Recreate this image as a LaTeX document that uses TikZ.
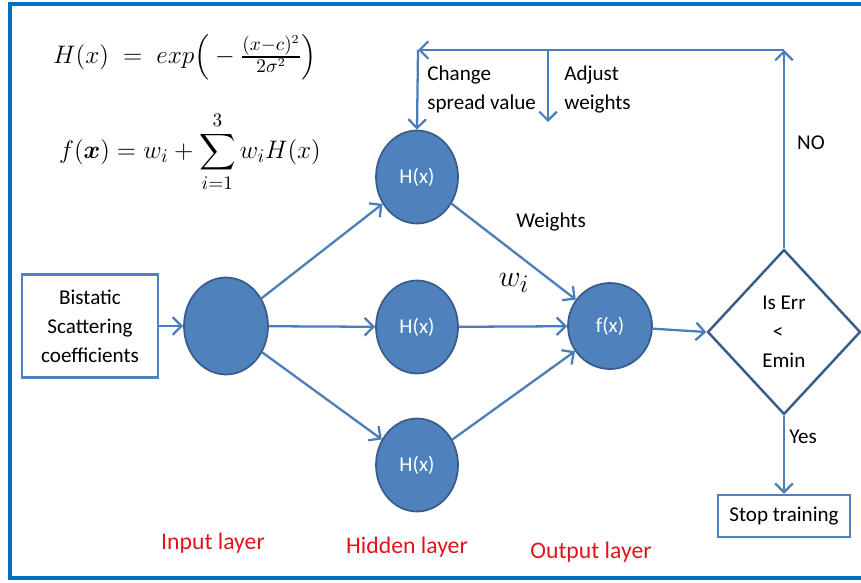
\documentclass[tikz,border=0pt]{standalone}
\usepackage{amsmath,bm}
\usepackage{fontspec}
\setmainfont{Carlito}
\usetikzlibrary{shapes.geometric,arrows.meta}

\definecolor{framecol}{HTML}{0070C0}
\definecolor{linecol}{HTML}{4A7EBB}
\definecolor{nodefill}{HTML}{4F81BD}
\definecolor{nodeedge}{HTML}{385D8A}
\definecolor{layercol}{HTML}{E3121B}

\tikzset{
  neuron/.style={ellipse,draw=nodeedge,fill=nodefill,line width=1pt,
    minimum width=1.64cm,minimum height=1.86cm,inner sep=0pt,
    text=white,font=\fontsize{12}{14}\selectfont},
  inbox/.style={rectangle,draw=nodefill,line width=1.4pt,align=center,
    minimum width=2.72cm,minimum height=2.06cm,
    font=\fontsize{12}{16.5}\selectfont},
  decision/.style={diamond,draw=nodeedge,line width=1.4pt,align=left,
    minimum width=3.06cm,minimum height=3.3cm,inner sep=0pt,
    font=\fontsize{12}{16.5}\selectfont},
  lbl/.style={inner sep=0pt,align=left,font=\fontsize{12}{16.5}\selectfont},
  layer/.style={inner sep=0pt,text=layercol,font=\fontsize{13.5}{15}\selectfont},
  conn/.style={draw=linecol,line width=1.3pt,-{Straight Barb[length=5pt,width=10pt]}}
}

\begin{document}
\begin{tikzpicture}[x=0.02cm,y=-0.02cm]
  \useasboundingbox (0,0) rectangle (861,582);
  \draw[framecol,line width=2.2pt] (10,4) rectangle (866,578);

  % formulas
  \node[inner sep=0pt] (hform) at (185,57)
    {\fontsize{15}{18}\selectfont $H(x)\;=\;exp\Big(-\frac{(x-c)^2}{2\sigma^2}\Big)$};
  \node[inner sep=0pt] (fform) at (190,152)
    {\fontsize{15}{18}\selectfont $\displaystyle f(\bm{x}) = w_i + \sum_{i=1}^{3} w_i H(x)$};

  % network
  \node[inbox] (src) at (90,326) {Bistatic\\Scattering\\coefficients};
  \node[neuron,minimum width=1.68cm,minimum height=1.94cm] (in) at (226,326) {};
  \node[neuron] (h1) at (417,177) {H(x)};
  \node[neuron] (h2) at (417,327) {H(x)};
  \node[neuron] (h3) at (417,465) {H(x)};
  \node[neuron,minimum width=1.68cm,minimum height=1.72cm] (out) at (610,326) {f(x)};
  \node[decision] (dec) at (784,332) {Is Err\\\hspace{6pt}<\\Emin};
  \node[inbox,minimum width=2.64cm,minimum height=0.84cm] (stop) at (784,516) {Stop training};

  \coordinate (fb) at (784,50);
  \coordinate (fbl) at (418,50);
  \coordinate (adj) at (548,50);
  \coordinate (adjend) at (548,122);

  \draw[conn] (src) -- (in);
  \foreach \h in {h1,h2,h3}{
    \draw[conn] (in) -- (\h);
    \draw[conn] (\h) -- (out);
  }
  \draw[conn] (out) -- (dec.west);
  \draw[conn] (dec.south) -- (stop.north);
  \draw[conn] (dec.north) -- (fb);
  \draw[conn] (fb) -- (fbl);
  \draw[conn] (fbl) -- (h1.north);
  \draw[conn] (adj) -- (adjend);

  % labels
  \node[lbl,anchor=west] (chg) at (427,89) {Change\\spread value};
  \node[lbl,anchor=west] (adjw) at (564,89) {Adjust\\weights};
  \node[lbl] (no) at (811,143) {NO};
  \node[lbl] (wts) at (551,222) {Weights};
  \node[inner sep=0pt] (wi) at (514,283) {\fontsize{19}{21}\selectfont $w_i$};
  \node[lbl] (yes) at (803,437) {Yes};

  \node[layer] (inl) at (213,543) {Input layer};
  \node[layer] (hidl) at (407,547) {Hidden layer};
  \node[layer] (outl) at (591,552) {Output layer};
\end{tikzpicture}
\end{document}
